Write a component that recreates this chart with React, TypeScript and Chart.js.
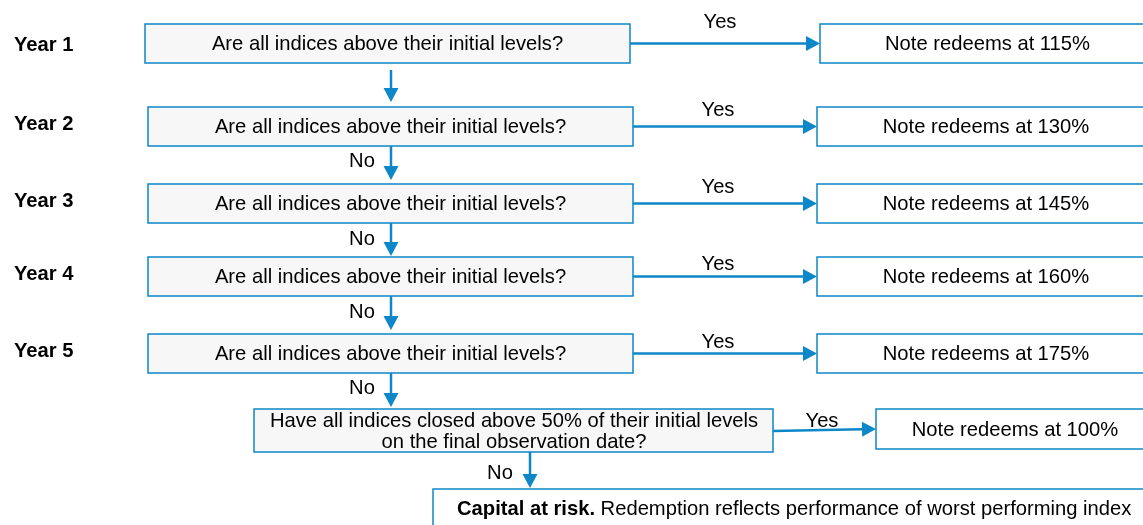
import React, { useEffect, useRef } from "react";
import { Chart, registerables } from "chart.js";

Chart.register(...registerables);

// ---- content ----
const yearLabels = ["Year 1", "Year 2", "Year 3", "Year 4", "Year 5"];
const questionText = "Are all indices above their initial levels?";
const redemptionLevels = [115, 130, 145, 160, 175];
const barrierLevel = 50;
const finalRedemption = 100;
const yesLabel = "Yes";
const noLabel = "No";
const riskBold = "Capital at risk.";
const riskText = " Redemption reflects performance of worst performing index";

// ---- layout (diagram units = page pixels) ----
const rowTops = [24, 107, 184, 257, 334];
const rowHeight = 39;
const questionLeft = [145, 148, 148, 148, 148];
const questionRight = [630, 633, 633, 633, 633];
const outcomeLeft = [820, 817, 817, 817, 817];
const yearLabelY = [45, 124, 201, 274, 351];
const yesLabelX = [720, 718, 718, 718, 718];
const yesLabelY = [22, 110, 187, 264, 342];
const downArrowTop = [70, 146, 223, 296, 373];
const downArrowTip = [102, 180, 256, 330, 407];
const noLabelY = [null, 161, 239, 312, 388];

const BLUE = "#0e87c9";
const FONT = "'Liberation Sans', Arial, sans-serif";
const SIZE = 20.2;

export default function App() {
  const ref = useRef<HTMLCanvasElement | null>(null);

  useEffect(() => {
    document.body.style.margin = "0";
    const canvas = ref.current!;
    const flowPlugin = {
      id: "flow",
      afterDraw(chart: any) {
        const ctx: CanvasRenderingContext2D = chart.ctx;
        const X = (v: number) => chart.scales.x.getPixelForValue(v);
        const Y = (v: number) => chart.scales.y.getPixelForValue(v);

        const box = (x1: number, y1: number, x2: number, y2: number, fill: string | null) => {
          const px = X(x1), py = Y(y1), pw = X(x2) - X(x1), ph = Y(y2) - Y(y1);
          if (fill) {
            ctx.fillStyle = fill;
            ctx.fillRect(px, py, pw, ph);
          }
          ctx.strokeStyle = BLUE;
          ctx.lineWidth = 1.5;
          ctx.strokeRect(px, py, pw, ph);
        };
        const text = (s: string, x: number, y: number, bold = false, align: CanvasTextAlign = "center") => {
          ctx.fillStyle = "#000";
          ctx.font = `${bold ? "bold " : ""}${SIZE}px ${FONT}`;
          ctx.textAlign = align;
          ctx.textBaseline = "middle";
          ctx.fillText(s, X(x), Y(y));
        };
        const arrow = (x1: number, y1: number, x2: number, y2: number) => {
          const ax = X(x1), ay = Y(y1), bx = X(x2), by = Y(y2);
          const ang = Math.atan2(by - ay, bx - ax);
          const len = 14, half = 7.5;
          const baseX = bx - len * Math.cos(ang), baseY = by - len * Math.sin(ang);
          ctx.strokeStyle = BLUE;
          ctx.lineWidth = 2.5;
          ctx.beginPath();
          ctx.moveTo(ax, ay);
          ctx.lineTo(baseX, baseY);
          ctx.stroke();
          ctx.fillStyle = BLUE;
          ctx.beginPath();
          ctx.moveTo(bx, by);
          ctx.lineTo(baseX - half * Math.sin(ang), baseY + half * Math.cos(ang));
          ctx.lineTo(baseX + half * Math.sin(ang), baseY - half * Math.cos(ang));
          ctx.closePath();
          ctx.fill();
        };

        ctx.save();
        rowTops.forEach((top, i) => {
          const bottom = top + rowHeight;
          const mid = top + rowHeight / 2;
          box(questionLeft[i], top, questionRight[i], bottom, "#f7f7f7");
          text(questionText, (questionLeft[i] + questionRight[i]) / 2, mid + 1);
          box(outcomeLeft[i], top, 1155, bottom, "#ffffff");
          text(`Note redeems at ${redemptionLevels[i]}%`, (outcomeLeft[i] + 1155) / 2, mid + 1);
          arrow(questionRight[i], mid, outcomeLeft[i], mid);
          text(yesLabel, yesLabelX[i], yesLabelY[i]);
          text(yearLabels[i], 14, yearLabelY[i], true, "left");
          arrow(391, downArrowTop[i], 391, downArrowTip[i]);
          const ny = noLabelY[i];
          if (ny !== null) text(noLabel, 362, ny);
        });

        // final observation question
        box(254, 409, 773, 452, "#f7f7f7");
        text(`Have all indices closed above ${barrierLevel}% of their initial levels`, 514, 421);
        text("on the final observation date?", 514, 442);
        arrow(773, 431, 876, 429);
        text(yesLabel, 822, 421);
        box(876, 409, 1155, 449, "#ffffff");
        text(`Note redeems at ${finalRedemption}%`, 1015, 430);
        text(noLabel, 500, 473);
        arrow(530, 452, 530, 488);

        // capital at risk
        box(433, 489, 1160, 540, "#ffffff");
        ctx.font = `bold ${SIZE}px ${FONT}`;
        const bw = ctx.measureText(riskBold).width;
        text(riskBold, 457, 509, true, "left");
        ctx.fillStyle = "#000";
        ctx.font = `${SIZE}px ${FONT}`;
        ctx.textAlign = "left";
        ctx.fillText(riskText, X(457) + bw, Y(509));
        ctx.restore();
      },
    };

    const chart = new Chart(canvas, {
      type: "scatter",
      data: { datasets: [{ data: [], showLine: false }] },
      options: {
        animation: false,
        responsive: false,
        layout: { padding: 0 },
        plugins: { legend: { display: false }, tooltip: { enabled: false } },
        scales: {
          x: { type: "linear", min: 0, max: 1143, display: false },
          y: { type: "linear", min: 0, max: 525, reverse: true, display: false },
        },
      },
      plugins: [flowPlugin],
    });
    return () => chart.destroy();
  }, []);

  return (
    <div style={{ position: "absolute", left: 0, top: 0, width: 1143, height: 525, background: "#fff" }}>
      <canvas ref={ref} width={1143} height={525} style={{ display: "block" }} />
    </div>
  );
}
